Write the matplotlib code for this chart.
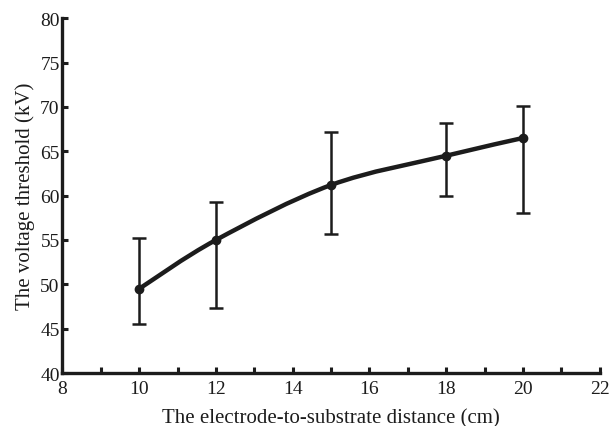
import numpy as np
import matplotlib
matplotlib.use('Agg')
import matplotlib.pyplot as plt
from matplotlib.path import Path
from matplotlib.patches import PathPatch

plt.rcParams['font.family'] = ['Liberation Serif', 'DejaVu Serif']

# data
distance = [10, 12, 15, 18, 20]
voltage = [49.5, 55.0, 61.2, 64.5, 66.5]
err_top = [55.2, 59.3, 67.2, 68.2, 70.1]
err_bottom = [45.5, 47.3, 55.7, 60.0, 58.0]

ink = '#1c1c1c'

fig = plt.figure(figsize=(6.12, 4.27), dpi=100)
ax = fig.add_axes([0.102, 0.124, 0.878, 0.831])

x = np.array(distance, dtype=float)
y = np.array(voltage, dtype=float)

# smooth curve through the points (Catmull-Rom as cubic Bezier)
verts = [(x[0], y[0])]
codes = [Path.MOVETO]
n = len(x)
for i in range(n - 1):
    p0 = (x[max(i - 1, 0)], y[max(i - 1, 0)])
    p1 = (x[i], y[i])
    p2 = (x[i + 1], y[i + 1])
    p3 = (x[min(i + 2, n - 1)], y[min(i + 2, n - 1)])
    c1 = (p1[0] + (p2[0] - p0[0]) / 6, p1[1] + (p2[1] - p0[1]) / 6)
    c2 = (p2[0] - (p3[0] - p1[0]) / 6, p2[1] - (p3[1] - p1[1]) / 6)
    verts += [c1, c2, p2]
    codes += [Path.CURVE4] * 3
ax.add_patch(PathPatch(Path(verts, codes), facecolor='none', edgecolor=ink,
                       lw=3.2, capstyle='round', zorder=3))

yerr = [y - np.array(err_bottom), np.array(err_top) - y]
ax.errorbar(x, y, yerr=yerr, fmt='o', color=ink, ms=6, elinewidth=1.8,
            capsize=5, capthick=1.8, zorder=4)

ax.set_xlim(8, 22)
ax.set_ylim(40, 80)
ax.set_xticks(np.arange(8, 23, 2))
ax.set_xticks(np.arange(9, 22, 2), minor=True)
ax.set_yticks(np.arange(40, 81, 5))

for side in ['top', 'right']:
    ax.spines[side].set_visible(False)
for side in ['left', 'bottom']:
    ax.spines[side].set_linewidth(2.4)
    ax.spines[side].set_color(ink)

ax.tick_params(which='both', direction='in', length=4, width=2.2, color=ink,
               labelsize=14, labelcolor=ink)
ax.tick_params(axis='x', which='both', pad=5)
ax.tick_params(axis='y', pad=2)

ax.set_xlabel('The electrode-to-substrate distance (cm)', fontsize=15, color=ink, labelpad=8)
ax.set_ylabel('The voltage threshold (kV)', fontsize=15, color=ink, labelpad=4)

fig.savefig('out.png', dpi=100)
